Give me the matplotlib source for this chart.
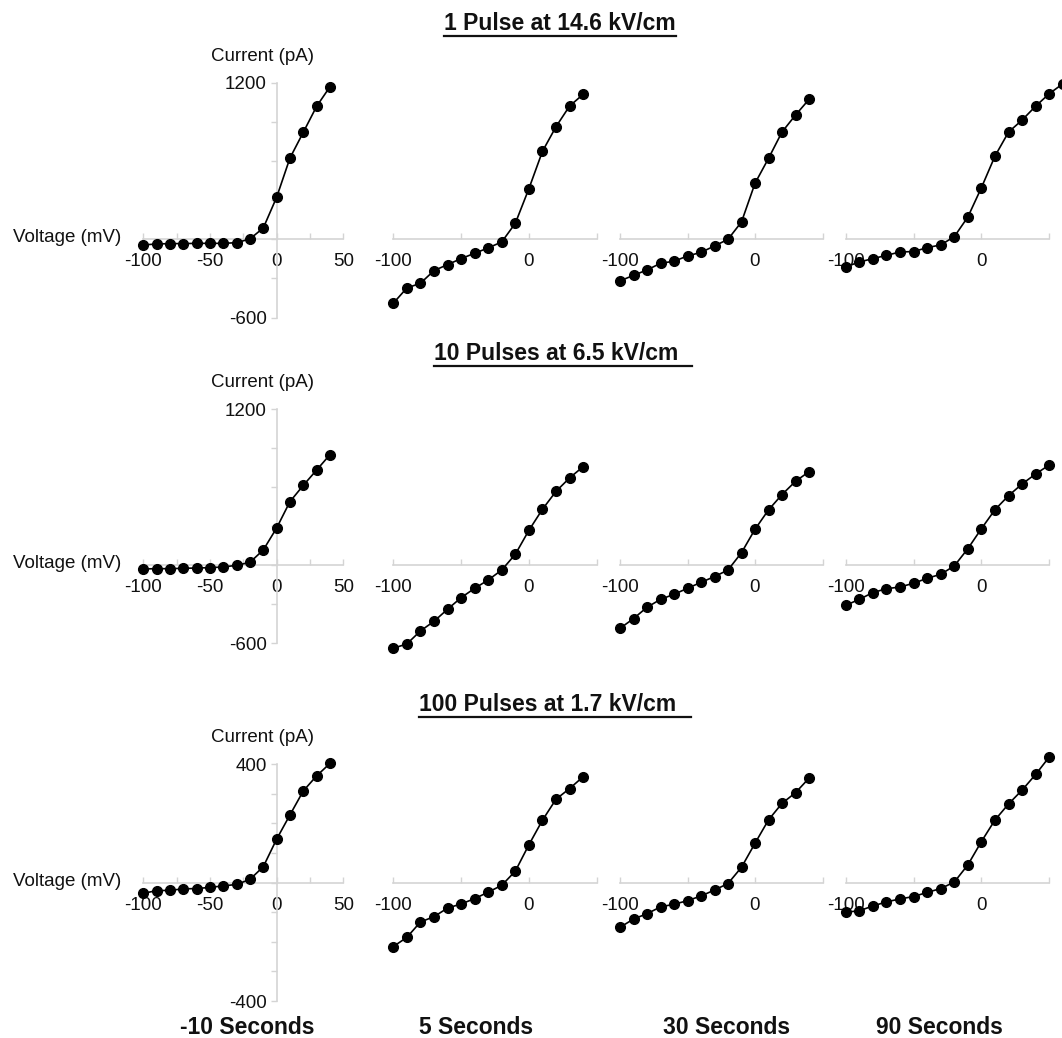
import matplotlib
matplotlib.use("Agg")
import matplotlib.pyplot as plt
from matplotlib.lines import Line2D

plt.rcParams["font.family"] = ["Liberation Sans", "DejaVu Sans"]

W, H = 1062, 1038

# voltage steps (mV)
volt_15 = [-100, -90, -80, -70, -60, -50, -40, -30, -20, -10, 0, 10, 20, 30, 40]
volt_16 = [-100, -90, -80, -70, -60, -50, -40, -30, -20, -10, 0, 10, 20, 30, 40, 50]
volt_17 = [-100, -90, -80, -70, -60, -50, -40, -30, -20, -10, 0, 10, 20, 30, 40, 50, 60]

# current (pA), 1 pulse at 14.6 kV/cm
p1_m10 = [-43, -36, -33, -33, -31, -31, -31, -26, 3, 87, 322, 623, 820, 1019, 1169]
p1_5 = [-490, -373, -337, -240, -194, -148, -107, -66, -20, 123, 388, 674, 863, 1021, 1111]
p1_30 = [-319, -276, -235, -184, -168, -128, -100, -51, 0, 133, 429, 620, 822, 952, 1072]
p1_90 = [-212, -174, -148, -123, -97, -94, -64, -43, 20, 171, 396, 638, 822, 914, 1021, 1116, 1192]

# 10 pulses at 6.5 kV/cm
p10_m10 = [-28, -26, -26, -23, -21, -18, -13, 0, 23, 118, 287, 490, 615, 733, 851]
p10_5 = [-638, -605, -505, -431, -338, -249, -177, -113, -36, 85, 269, 431, 569, 672, 759]
p10_30 = [-485, -410, -323, -262, -223, -177, -131, -87, -36, 97, 277, 426, 544, 646, 720]
p10_90 = [-308, -262, -210, -180, -167, -138, -100, -69, -5, 128, 282, 428, 536, 626, 703, 772]

# 100 pulses at 1.7 kV/cm
p100_m10 = [-36, -27, -26, -21, -20, -16, -11, -6, 11, 54, 147, 229, 310, 361, 403]
p100_5 = [-216, -185, -133, -115, -86, -72, -54, -32, -9, 39, 128, 211, 282, 318, 358]
p100_30 = [-151, -123, -105, -82, -73, -61, -45, -25, -3, 52, 133, 212, 268, 304, 353]
p100_90 = [-100, -95, -79, -65, -55, -47, -33, -20, 2, 60, 139, 212, 266, 313, 366, 425]

row_titles = ["1 Pulse at 14.6 kV/cm", "10 Pulses at 6.5 kV/cm ", "100 Pulses at 1.7 kV/cm "]
time_labels = ["-10 Seconds", "5 Seconds", "30 Seconds", "90 Seconds"]
row_ylims = [(-600, 1200), (-600, 1200), (-400, 400)]
row_ystep = [300, 300, 100]

rows = [
    [(volt_15, p1_m10), (volt_15, p1_5), (volt_15, p1_30), (volt_17, p1_90)],
    [(volt_15, p10_m10), (volt_15, p10_5), (volt_15, p10_30), (volt_16, p10_90)],
    [(volt_15, p100_m10), (volt_15, p100_5), (volt_15, p100_30), (volt_16, p100_90)],
]

# layout in pixels: x of -100 / 50 mV per column, y of ymax / ymin per row
col_px = [(143.3, 343.3), (393.3, 596.7), (620.0, 822.5), (845.7, 1049.3)]
row_px = [(82.7, 317.6), (409.3, 643.3), (764.3, 1001.0)]
title_px = [(560, 30), (559, 360), (551, 711)]
label_px = [(247, 1027), (476, 1027), (727, 1027), (939, 1027)]

AXC = "#d4d4d4"
TXT = "#111111"
FS = 13.5

fig = plt.figure(figsize=(W / 100, H / 100), dpi=100)

for r, panels in enumerate(rows):
    y0, y1 = row_px[r]
    lo, hi = row_ylims[r]
    for c, (vx, iy) in enumerate(panels):
        x0, x1 = col_px[c]
        ax = fig.add_axes([x0 / W, 1 - y1 / H, (x1 - x0) / W, (y1 - y0) / H])
        ax.set_xlim(-100, 50)
        ax.set_ylim(lo, hi)
        ax.patch.set_alpha(0)
        ax.plot(vx, iy, color="black", lw=1.2, marker="o", ms=7,
                mfc="black", mec="black", clip_on=False, zorder=5)
        for s in ["top", "right"]:
            ax.spines[s].set_visible(False)
        ax.spines["bottom"].set_position(("data", 0))
        ax.spines["bottom"].set_color(AXC)
        ax.spines["bottom"].set_linewidth(1.2)
        ax.tick_params(axis="x", direction="in", length=4, color=AXC, width=1,
                       pad=10, labelsize=FS, labelcolor=TXT)
        if c == 0:
            ax.spines["left"].set_position(("data", 0))
            ax.spines["left"].set_color(AXC)
            ax.spines["left"].set_linewidth(1.2)
            ax.set_xticks([-100, -75, -50, -25, 0, 25, 50])
            ax.set_xticklabels(["-100", "", "-50", "", "0", "", "50"])
            yt = list(range(lo, hi + 1, row_ystep[r]))
            ax.set_yticks(yt)
            ax.set_yticklabels([str(v) if v in (lo, hi) else "" for v in yt])
            ax.tick_params(axis="y", direction="out", length=4, color=AXC, width=1,
                           pad=3, labelsize=FS, labelcolor=TXT)
            ax.annotate("Voltage (mV)", xy=(-100, 0), xytext=(-16, 1),
                        textcoords="offset points", ha="right", va="center",
                        fontsize=FS, color=TXT)
            ax.annotate("Current (pA)", xy=(0, hi), xytext=(-10, 19),
                        textcoords="offset points", ha="center", va="center",
                        fontsize=FS, color=TXT)
        else:
            ax.spines["left"].set_visible(False)
            ax.set_xticks([-100, -50, 0, 50])
            ax.set_xticklabels(["-100", "", "0", ""])
            ax.set_yticks([])

titles = []
for r, t in enumerate(row_titles):
    tx, ty = title_px[r]
    titles.append(fig.text(tx / W, 1 - ty / H, t, ha="center", va="baseline",
                           fontsize=16.5, fontweight="bold", color=TXT))

for c, t in enumerate(time_labels):
    lx, ly = label_px[c]
    fig.text(lx / W, 1 - ly / H, t, ha="center", va="center",
             fontsize=16.5, fontweight="bold", color=TXT)

# underline the row titles
renderer = fig.canvas.get_renderer()
for r, t in enumerate(titles):
    bb = t.get_window_extent(renderer)
    extra = 0 if r == 0 else 8
    yline = bb.y0 - 1
    fig.add_artist(Line2D([bb.x0 / W, (bb.x1 + extra) / W], [yline / H, yline / H],
                          transform=fig.transFigure, color=TXT, lw=1.6))

fig.savefig("out.png", dpi=100)
